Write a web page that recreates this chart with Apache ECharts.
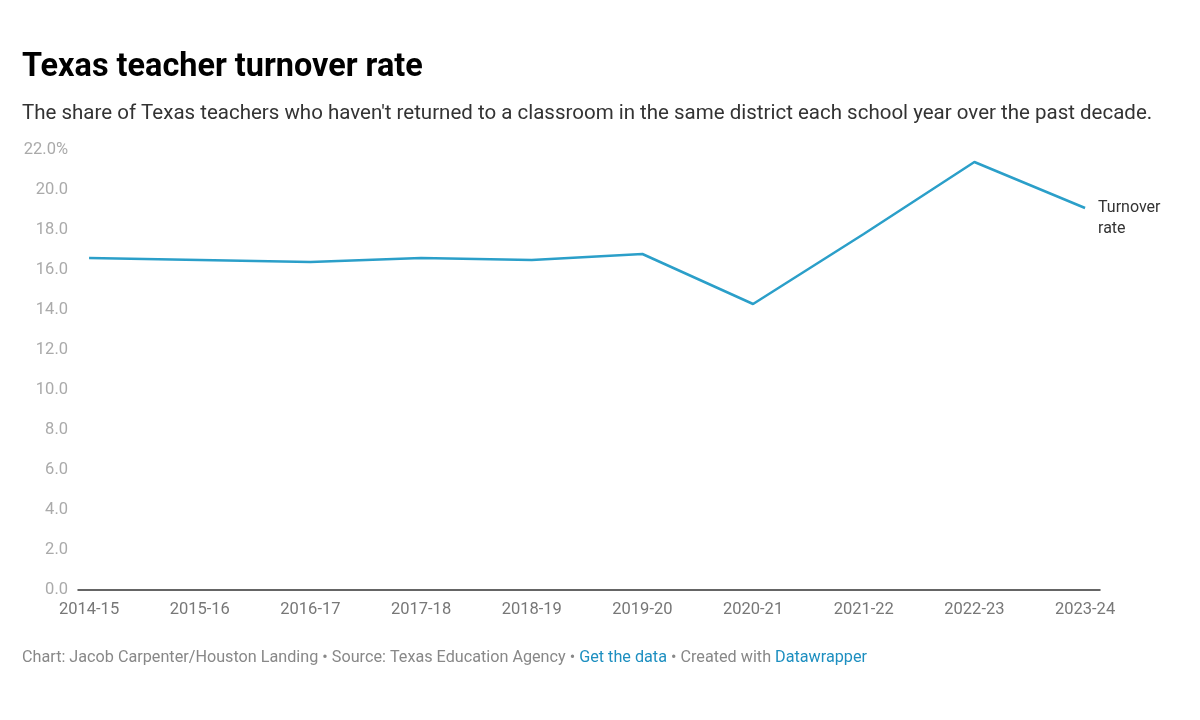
<!DOCTYPE html>
<html>
<head>
<meta charset="utf-8">
<script src="https://cdn.jsdelivr.net/npm/echarts@6/dist/echarts.min.js"></script>
<style>
html,body{margin:0;padding:0;background:#fff;}
#c{width:1200px;height:720px;}
</style>
</head>
<body>
<div id="c"></div>
<script>
const categories = ["2014-15","2015-16","2016-17","2017-18","2018-19","2019-20","2020-21","2021-22","2022-23","2023-24"];
const turnoverRate = [16.6, 16.5, 16.4, 16.6, 16.5, 16.8, 14.3, 17.8, 21.4, 19.1];
const yTicks = [0,2,4,6,8,10,12,14,16,18,20,22];
const seriesName = "Turnover\nrate";

const chart = echarts.init(document.getElementById('c'));
const F = 'Roboto, "Noto Sans", sans-serif';

chart.setOption({
  animation: false,
  backgroundColor: '#fff',
  title: [
    {
      text: 'Texas teacher turnover rate',
      left: 22, top: 52, padding: 0,
      textStyle: { fontFamily: F, fontSize: 32.4, fontWeight: 'bold', color: '#000' }
    },
    {
      text: "The share of Texas teachers who haven't returned to a classroom in the same district each school year over the past decade.",
      left: 22, top: 103, padding: 0,
      textStyle: { fontFamily: F, fontSize: 20.5, fontWeight: 'normal', color: '#333' }
    },
    {
      text: 'Chart: Jacob Carpenter/Houston Landing • Source: Texas Education Agency • {a|Get the data} • Created with {a|Datawrapper}',
      left: 22, top: 650, padding: 0,
      textStyle: {
        fontFamily: F, fontSize: 16.2, fontWeight: 'normal', color: '#888',
        rich: { a: { fontFamily: F, fontSize: 16.2, color: '#1d8fc0' } }
      }
    }
  ],
  grid: { left: 78, right: 100, top: 150, bottom: 130 },
  xAxis: {
    type: 'value',
    min: -0.1, max: 9.135,
    axisLine: { show: true, lineStyle: { color: '#333', width: 1.5 } },
    axisTick: { show: false },
    splitLine: { show: false },
    axisLabel: {
      customValues: categories.map((c, i) => i),
      formatter: v => categories[Math.round(v)] || '',
      color: '#777', fontFamily: F, fontSize: 16.5, margin: 11
    }
  },
  yAxis: {
    type: 'value',
    min: 0, max: 22, interval: 2,
    axisLine: { show: false },
    axisTick: { show: false },
    splitLine: { show: false },
    axisLabel: {
      customValues: yTicks,
      formatter: v => v === 22 ? v.toFixed(1) + '%' : v.toFixed(1),
      color: '#aaa', fontFamily: F, fontSize: 16.5, margin: 10
    }
  },
  series: [{
    type: 'line',
    name: seriesName,
    data: turnoverRate.map((v, i) => [i, v]),
    symbol: 'none',
    lineStyle: { color: '#2b9fc9', width: 2.5 },
    endLabel: {
      show: true,
      formatter: seriesName,
      color: '#333', fontFamily: F, fontSize: 16, lineHeight: 21,
      distance: 13, offset: [0, 10]
    }
  }]
});
</script>
</body>
</html>
